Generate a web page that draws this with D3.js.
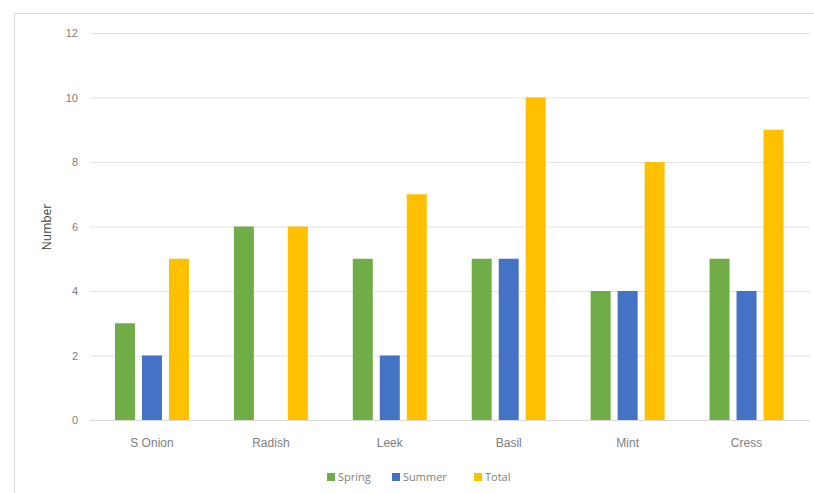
<!DOCTYPE html>
<html><head><meta charset="utf-8">
<script src="https://cdn.jsdelivr.net/npm/d3@7"></script>
<style>body{margin:0;background:#fff;}svg{display:block;font-family:"Open Sans","Liberation Sans",sans-serif;}</style>
</head><body>
<svg id="c" width="814" height="493"></svg>
<script>
const categories = ["S Onion","Radish","Leek","Basil","Mint","Cress"];
const seriesNames = ["Spring","Summer","Total"];
const spring = [3,6,5,5,4,5];
const summer = [2,0,2,5,4,4];
const total = [5,6,7,10,8,9];
const yTicks = [0,2,4,6,8,10,12];
const colors = ["#70AD47","#4472C4","#FFC000"];

const svg = d3.select("#c");
svg.append("rect").attr("x",14.5).attr("y",13.5).attr("width",820).attr("height",500)
  .attr("fill","#fff").attr("stroke","#d9d9d9");

const m = {l:90, r:810, t:33, b:420};
const x = d3.scaleBand().domain(categories).range([92.5,806]).paddingInner(0.378).paddingOuter(0.189);
const xs = d3.scaleBand().domain(seriesNames).range([0,x.bandwidth()]).paddingInner(0.26);
const y = d3.scaleLinear().domain([0,12]).range([m.b,m.t]);

const yAxis = d3.axisLeft(y).tickValues(yTicks).tickSize(-(m.r-m.l)).tickPadding(12);
const ga = svg.append("g").attr("transform",`translate(${m.l},0)`).call(yAxis);
ga.select(".domain").remove();
ga.selectAll(".tick line").attr("stroke","#e3e3e3");
ga.selectAll(".tick text").attr("fill","#808080").style("font-size","11px");

svg.append("line").attr("x1",m.l).attr("x2",m.r).attr("y1",m.b+0.5).attr("y2",m.b+0.5).attr("stroke","#d9d9d9");
const xAxis = d3.axisBottom(x).tickSize(0).tickPadding(18);
const gx = svg.append("g").attr("transform",`translate(0,${m.b})`).call(xAxis);
gx.select(".domain").remove();
gx.selectAll(".tick text").attr("fill","#808080").style("font-size","12px");

const data = categories.map((c,i)=>({c, vals:[spring[i],summer[i],total[i]]}));
const groups = svg.append("g").selectAll("g").data(data).join("g")
  .attr("transform",d=>`translate(${x(d.c)},0)`);
groups.selectAll("rect").data(d=>d.vals.map((v,j)=>({s:seriesNames[j],v,j}))).join("rect")
  .attr("x",d=>xs(d.s)).attr("width",xs.bandwidth())
  .attr("y",d=>y(d.v)).attr("height",d=>y(0)-y(d.v))
  .attr("fill",d=>colors[d.j]);

svg.append("text").attr("transform","translate(51,227) rotate(-90)")
  .attr("text-anchor","middle").attr("fill","#404040").style("font-size","12px").text("Number");

const legX = [327,392,474];
const lg = svg.append("g").selectAll("g").data(seriesNames).join("g")
  .attr("transform",(d,i)=>`translate(${legX[i]},477)`);
lg.append("rect").attr("x",0).attr("y",-4).attr("width",8).attr("height",8).attr("fill",(d,i)=>colors[i]);
lg.append("text").attr("x",11).attr("y",4).attr("fill","#808080").style("font-size","11px").text(d=>d);
</script>
</body></html>
